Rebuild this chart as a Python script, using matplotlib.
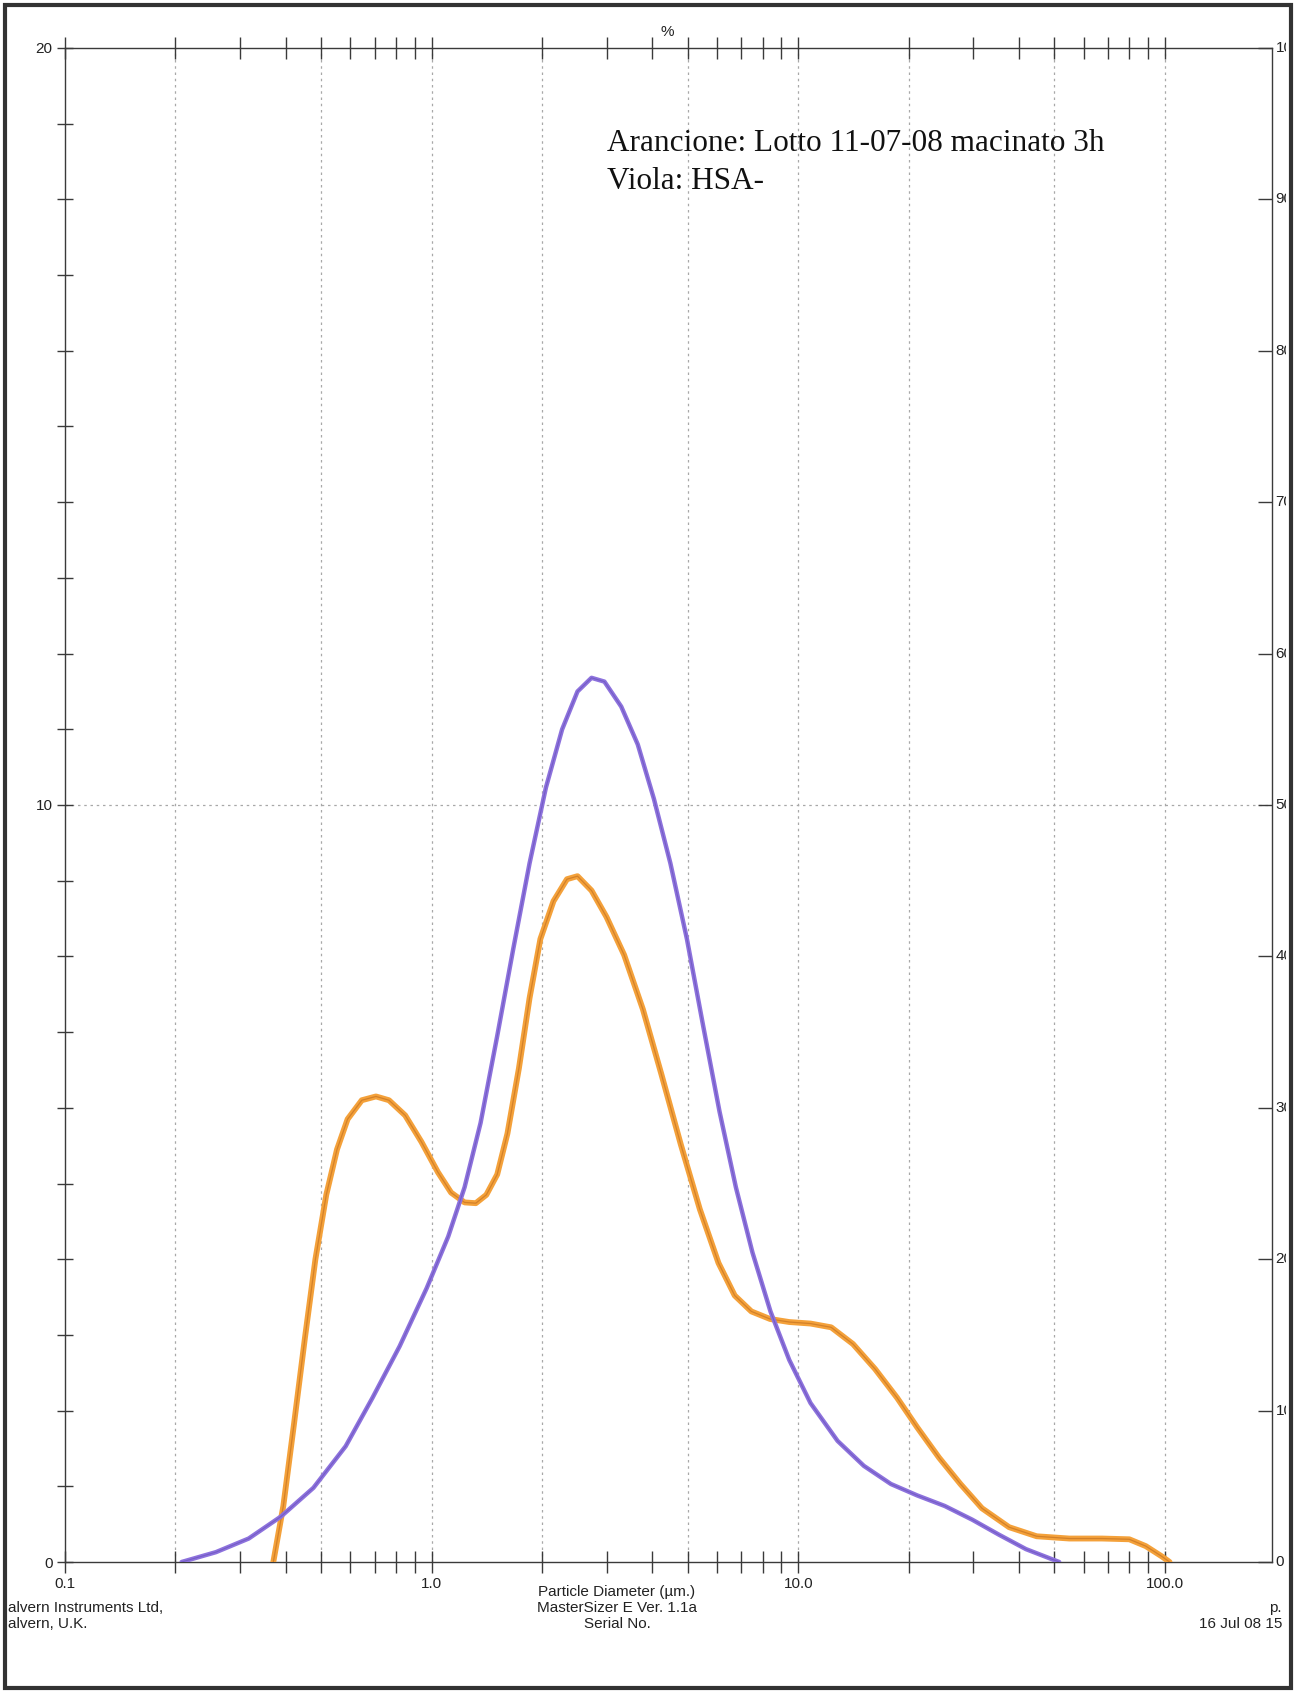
import matplotlib
matplotlib.use("Agg")
import matplotlib.pyplot as plt
from matplotlib.patches import Rectangle
from matplotlib.transforms import Bbox, blended_transform_factory
from matplotlib.ticker import LogLocator, NullFormatter, MultipleLocator, FixedLocator
import numpy as np

# ---------------- data ----------------
# Orange curve: "Arancione: Lotto 11-07-08 macinato 3h"
orange_d = [0.37, 0.394, 0.421, 0.451, 0.482, 0.516, 0.552, 0.59, 0.645, 0.705,
            0.765, 0.847, 0.938, 1.04, 1.13, 1.23, 1.32, 1.41, 1.51, 1.61,
            1.73, 1.85, 1.98, 2.15, 2.34, 2.5, 2.73, 3.0, 3.35, 3.77,
            4.23, 4.78, 5.39, 6.06, 6.71, 7.45, 8.38, 9.45, 10.8, 12.3,
            14.1, 16.2, 18.6, 21.1, 24.2, 27.7, 31.7, 37.6, 44.7, 54.9,
            67.4, 80.0, 88.7, 98.4, 103.0]
orange_pct = [0.0, 0.74, 1.81, 2.95, 4.0, 4.85, 5.45, 5.85, 6.10, 6.15,
              6.10, 5.90, 5.55, 5.15, 4.88, 4.75, 4.74, 4.85, 5.12, 5.66,
              6.52, 7.45, 8.23, 8.73, 9.02, 9.06, 8.87, 8.52, 8.02, 7.30,
              6.45, 5.52, 4.66, 3.95, 3.52, 3.31, 3.21, 3.17, 3.15, 3.10,
              2.88, 2.55, 2.17, 1.78, 1.38, 1.03, 0.71, 0.46, 0.34, 0.31,
              0.31, 0.30, 0.21, 0.07, 0.0]

# Violet curve: "Viola: HSA-.."
violet_d = [0.208, 0.258, 0.317, 0.388, 0.476, 0.583, 0.69, 0.818, 0.97, 1.11,
            1.23, 1.36, 1.51, 1.67, 1.85, 2.05, 2.27, 2.5, 2.73, 2.96,
            3.29, 3.65, 4.04, 4.48, 4.97, 5.5, 6.1, 6.76, 7.5, 8.4,
            9.45, 10.8, 12.8, 15.1, 17.9, 21.1, 25.1, 29.8, 35.3, 41.8, 51.5]
violet_pct = [0.0, 0.13, 0.31, 0.60, 0.98, 1.53, 2.17, 2.85, 3.62, 4.30,
              4.95, 5.80, 6.95, 8.10, 9.23, 10.23, 11.0, 11.5, 11.68, 11.63,
              11.3, 10.8, 10.08, 9.23, 8.23, 7.09, 5.95, 4.95, 4.09, 3.31,
              2.67, 2.10, 1.60, 1.27, 1.03, 0.88, 0.74, 0.56, 0.36, 0.17, 0.0]

x_tick_values = [0.1, 1, 10, 100]
x_tick_labels = ["0.1", "1.0", "10.0", "100.0"]
left_tick_values = [0, 10, 20]
left_tick_labels = ["0", "10", "20"]
right_tick_values = [0, 10, 20, 30, 40, 50, 60, 70, 80, 90, 100]
right_tick_labels = ["0", "10", "20", "30", "40", "50", "60", "70", "80", "90", "100"]
grid_d = [0.2, 0.5, 1, 2, 5, 10, 20, 50, 100]
legend_lines = ["Arancione: Lotto 11-07-08 macinato 3h", "Viola: HSA-"]
x_title = "Particle Diameter (\u00b5m.)"
center_footer = ["MasterSizer E Ver. 1.1a", "Serial No."]
left_footer = ["alvern Instruments Ltd,", "alvern, U.K."]
right_footer = ["p.", "16 Jul 08 15"]

# ---------------- figure ----------------
W, H = 1296, 1693
fig = plt.figure(figsize=(W / 100, H / 100), dpi=100)
fig.patch.set_facecolor("white")

L, R, T, B = 65, 1272, 48, 1562
ax = fig.add_axes([L / W, 1 - B / H, (R - L) / W, (B - T) / H])
ax.set_xscale("log")
ax.set_xlim(0.1, 196)
ax.set_ylim(0, 20)

sans = ["Liberation Sans Narrow", "Liberation Sans", "DejaVu Sans"]
serif = ["Liberation Serif", "DejaVu Serif"]
axis_col = "#3a3a3a"

for s in ax.spines.values():
    s.set_color(axis_col)
    s.set_linewidth(1.0)

# grid lines
for g in grid_d:
    ax.axvline(g, color="#a8a8a8", lw=0.9, ls=(0, (2, 3)), zorder=0)
ax.axhline(10, color="#a8a8a8", lw=0.9, ls=(0, (2, 3)), zorder=0)

# x ticks
ax.xaxis.set_major_locator(FixedLocator(x_tick_values))
ax.xaxis.set_minor_locator(LogLocator(base=10, subs=np.arange(2, 10)))
ax.xaxis.set_minor_formatter(NullFormatter())
ax.set_xticks(x_tick_values)
ax.set_xticklabels(x_tick_labels, family=sans, fontsize=11, color="#222222")
ax.tick_params(axis="x", which="both", direction="inout", length=16, width=1.0,
               top=True, bottom=True, color=axis_col, pad=3)

# left y ticks
ax.set_yticks(left_tick_values)
ax.set_yticklabels(left_tick_labels, family=sans, fontsize=11, color="#222222")
ax.yaxis.set_minor_locator(MultipleLocator(1))
ax.tick_params(axis="y", which="both", direction="inout", length=12, width=1.0,
               left=True, right=False, color=axis_col, pad=3)

# right axis (cumulative %)
ax2 = ax.twinx()
ax2.set_ylim(0, 100)
ax2.set_yticks(right_tick_values)
ax2.set_yticklabels([])
ax2.tick_params(axis="y", direction="in", length=10, width=1.0, color=axis_col)
for s in ax2.spines.values():
    s.set_visible(False)
clipbox = Bbox.from_extents(0, 0, 1286, H)
tr = blended_transform_factory(ax2.transAxes, ax2.transData)
for v, lab in zip(right_tick_values, right_tick_labels):
    t = ax2.text(1.003, v, lab, transform=tr, ha="left", va="center",
                 fontsize=11, family=sans, color="#222222")
    t.set_clip_on(True)
    t.set_clip_box(clipbox)

# curves
ax.plot(orange_d, orange_pct, color="#F4A13A", lw=4.2, solid_capstyle="round",
        solid_joinstyle="round", zorder=3)
ax.plot(orange_d, orange_pct, color="#B7661C", lw=0.9, alpha=0.55,
        solid_joinstyle="round", zorder=4)
ax.plot(violet_d, violet_pct, color="#8D72DD", lw=3.2, solid_capstyle="round",
        solid_joinstyle="round", zorder=5)
ax.plot(violet_d, violet_pct, color="#5C47AE", lw=0.8, alpha=0.5,
        solid_joinstyle="round", zorder=6)

# "%" marker on top axis
ax.text(4.4, 20.12, "%", ha="center", va="bottom", fontsize=11, family=sans, color="#222222")

# legend text
fig.text(607 / W, 1 - 151 / H, legend_lines[0], ha="left", va="baseline",
         fontsize=22.5, family=serif, color="#111111")
fig.text(607 / W, 1 - 189 / H, legend_lines[1], ha="left", va="baseline",
         fontsize=22.5, family=serif, color="#111111")

# footer texts
cx = 617 / W
fig.text(cx, 1 - 1592 / H, x_title, ha="center", va="center", fontsize=11, family=sans, color="#222222")
fig.text(cx, 1 - 1608 / H, center_footer[0], ha="center", va="center", fontsize=11, family=sans, color="#222222")
fig.text(cx, 1 - 1624 / H, center_footer[1], ha="center", va="center", fontsize=11, family=sans, color="#222222")
fig.text(8 / W, 1 - 1608 / H, left_footer[0], ha="left", va="center", fontsize=11, family=sans, color="#222222")
fig.text(8 / W, 1 - 1624 / H, left_footer[1], ha="left", va="center", fontsize=11, family=sans, color="#222222")
fig.text(1282 / W, 1 - 1608 / H, right_footer[0], ha="right", va="center", fontsize=11, family=sans, color="#222222")
fig.text(1282 / W, 1 - 1624 / H, right_footer[1], ha="right", va="center", fontsize=11, family=sans, color="#222222")

# page border
fig.patches.append(Rectangle((5 / W, 5 / H), (W - 10) / W, (H - 10) / H, transform=fig.transFigure,
                             fill=False, edgecolor="#333333", lw=3))

fig.savefig("out.png", dpi=100, facecolor="white")
